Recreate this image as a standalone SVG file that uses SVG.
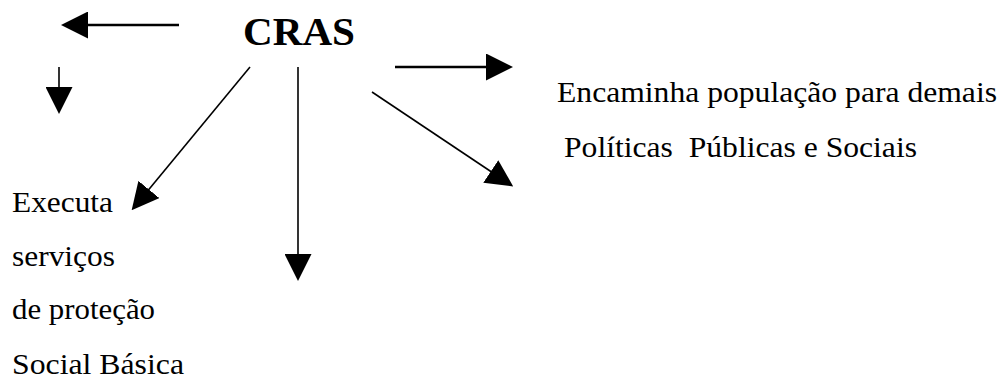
<svg xmlns="http://www.w3.org/2000/svg" width="1003" height="379" viewBox="0 0 1003 379">
  <style>
    .txt { font-family: "Liberation Serif", "Times New Roman", serif; font-size: 29px; fill: #000; }
    .title { font-family: "Liberation Serif", "Times New Roman", serif; font-size: 41px; font-weight: bold; fill: #000; }
    .thick { stroke: #000; stroke-width: 2.6; fill: none; }
    .thin { stroke: #000; stroke-width: 1.6; fill: none; }
  </style>
  <defs>
    <marker id="head" markerUnits="userSpaceOnUse" viewBox="0 0 27 27" markerWidth="27" markerHeight="27" refX="1" refY="13.5" orient="auto">
      <path d="M0,0 L27,13.5 L0,27 Z" fill="#000"/>
    </marker>
  </defs>
  <rect width="1003" height="379" fill="#fff"/>

  <g id="cras">
    <text class="title" x="243" y="45" textLength="112" lengthAdjust="spacingAndGlyphs">CRAS</text>
  </g>

  <g id="executa">
    <text class="txt" x="12" y="212" textLength="101" lengthAdjust="spacingAndGlyphs">Executa</text>
    <text class="txt" x="12" y="266" textLength="103" lengthAdjust="spacingAndGlyphs">serviços</text>
    <text class="txt" x="12" y="319" textLength="143" lengthAdjust="spacingAndGlyphs">de proteção</text>
    <text class="txt" x="12" y="373.5" textLength="172" lengthAdjust="spacingAndGlyphs">Social Básica</text>
  </g>

  <g id="encaminha">
    <text class="txt" x="557" y="102" textLength="440" lengthAdjust="spacingAndGlyphs">Encaminha população para demais</text>
    <text class="txt" x="564" y="157" textLength="353" lengthAdjust="spacingAndGlyphs" xml:space="preserve">Políticas  Públicas e Sociais</text>
  </g>

  <g id="connectors">
    <line class="thick" x1="179" y1="25" x2="87" y2="25" marker-end="url(#head)"/>
    <line class="thin" x1="59" y1="67" x2="59" y2="88" marker-end="url(#head)"/>
    <line class="thin" x1="250" y1="67" x2="148.2" y2="190.2" marker-end="url(#head)"/>
    <line class="thin" x1="298" y1="67" x2="298" y2="255" marker-end="url(#head)"/>
    <line class="thick" x1="395" y1="67" x2="487" y2="67" marker-end="url(#head)"/>
    <line class="thin" x1="372" y1="92" x2="491.6" y2="172" marker-end="url(#head)"/>
  </g>
</svg>
